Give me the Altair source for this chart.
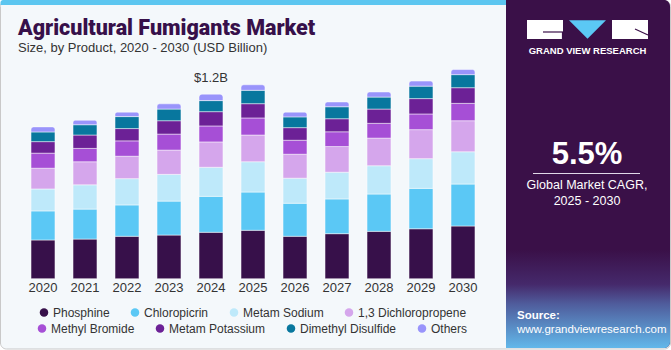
import altair as alt
import pandas as pd

years = [2020, 2021, 2022, 2023, 2024, 2025, 2026, 2027, 2028, 2029, 2030]
products = ["Phosphine", "Chloropicrin", "Metam Sodium", "1,3 Dichloropropene",
            "Methyl Bromide", "Metam Potassium", "Dimethyl Disulfide", "Others"]
colors = ["#37104A", "#5BC8F5", "#BEE9FA", "#D5A6EC",
          "#A64FD6", "#6C2196", "#08779E", "#9994FB"]

phosphine = [0.252, 0.258, 0.276, 0.284, 0.302, 0.315, 0.276, 0.293, 0.308, 0.325, 0.343]
chloropicrin = [0.189, 0.195, 0.204, 0.221, 0.234, 0.249, 0.215, 0.226, 0.243, 0.263, 0.273]
metam_sodium = [0.143, 0.158, 0.171, 0.174, 0.189, 0.197, 0.163, 0.174, 0.184, 0.193, 0.210]
dichloropropene = [0.135, 0.150, 0.146, 0.158, 0.165, 0.174, 0.156, 0.167, 0.180, 0.189, 0.202]
methyl_bromide = [0.098, 0.087, 0.100, 0.104, 0.104, 0.111, 0.091, 0.096, 0.096, 0.102, 0.113]
metam_potassium = [0.075, 0.087, 0.080, 0.087, 0.093, 0.093, 0.082, 0.085, 0.093, 0.100, 0.102]
dimethyl_disulfide = [0.063, 0.067, 0.078, 0.076, 0.072, 0.087, 0.070, 0.078, 0.078, 0.081, 0.085]
others = [0.033, 0.029, 0.029, 0.034, 0.042, 0.036, 0.031, 0.031, 0.033, 0.033, 0.033]

series = [phosphine, chloropicrin, metam_sodium, dichloropropene,
          methyl_bromide, metam_potassium, dimethyl_disulfide, others]

rows = []
for i, (name, vals) in enumerate(zip(products, series)):
    for y, v in zip(years, vals):
        rows.append({"year": y, "product": name, "value": v, "idx": i})
df = pd.DataFrame(rows)

title_text = "Agricultural Fumigants Market"
subtitle_text = "Size, by Product, 2020 - 2030 (USD Billion)"
annotation_text = "$1.2B"
cagr_text = "5.5%"
cagr_label1 = "Global Market CAGR,"
cagr_label2 = "2025 - 2030"
brand_text = "GRAND VIEW RESEARCH"
source_label = "Source:"
source_url = "www.grandviewresearch.com"

W, H = 671, 350
one = pd.DataFrame({"a": [0]})
FONT = "Liberation Sans"

xscale = alt.Scale(domain=years, range=[22, 484], paddingInner=0.43, paddingOuter=0.215)
yscale = alt.Scale(domain=[0, 1.2], range=[278.7, 94.3], nice=False, zero=True)

def deco():
    return alt.Chart(one)

# backgrounds
bg = deco().mark_rect(fill="#F4F8FB", stroke="#C9C9C9", strokeWidth=1, cornerRadius=6).encode(
    x=alt.value(0.5), x2=alt.value(670.5), y=alt.value(0.5), y2=alt.value(349))
top_strip = deco().mark_rect(fill="#5CC6F0", cornerRadiusTopLeft=5).encode(
    x=alt.value(0.5), x2=alt.value(506), y=alt.value(0), y2=alt.value(5))
panel = deco().mark_rect(fill="#3A1048", cornerRadiusTopRight=6, cornerRadiusBottomRight=6).encode(
    x=alt.value(506), x2=alt.value(670), y=alt.value(0), y2=alt.value(348))
grad = alt.LinearGradient(
    gradient="linear", x1=0, y1=0, x2=0, y2=1,
    stops=[alt.GradientStop(offset=0, color="#3A1048"),
           alt.GradientStop(offset=0.35, color="#45296B"),
           alt.GradientStop(offset=0.55, color="#4F5C9C"),
           alt.GradientStop(offset=1, color="#62B8EA")])
panel_bottom = deco().mark_rect(color=grad, cornerRadiusBottomRight=6).encode(
    x=alt.value(506), x2=alt.value(670), y=alt.value(250), y2=alt.value(348))

# logo
logo_box1 = deco().mark_rect(fill="white").encode(
    x=alt.value(527), x2=alt.value(563), y=alt.value(20), y2=alt.value(39))
logo_box2 = deco().mark_rect(fill="white").encode(
    x=alt.value(612), x2=alt.value(648), y=alt.value(20), y2=alt.value(39))
logo_tri = deco().mark_point(shape="M -1 -0.5 L 1 -0.5 L 0 0.5 Z", filled=True,
                             fill="#5BC8F5", opacity=1, size=1369, strokeWidth=0).encode(
    x=alt.value(587.5), y=alt.value(29.5))
g_h = deco().mark_rule(color="#3A1048", strokeWidth=1.2).encode(
    x=alt.value(543), x2=alt.value(563), y=alt.value(32), y2=alt.value(32))
g_v = deco().mark_rule(color="#3A1048", strokeWidth=1.2).encode(
    x=alt.value(562.5), x2=alt.value(562.5), y=alt.value(32), y2=alt.value(39))
r_d = deco().mark_rule(color="#3A1048", strokeWidth=1.2).encode(
    x=alt.value(635), x2=alt.value(648), y=alt.value(29), y2=alt.value(35))
brand = deco().mark_text(text=brand_text, font=FONT, fontSize=9.5, fontWeight="bold",
                         color="white", align="center", baseline="middle").encode(
    x=alt.value(587.5), y=alt.value(50.5))

# CAGR
cagr = deco().mark_text(text=cagr_text, font=FONT, fontSize=31, fontWeight="bold",
                        color="white", align="center", baseline="middle").encode(
    x=alt.value(587), y=alt.value(155))
cagr_rule = deco().mark_rule(color="#E0D8E8", strokeWidth=1).encode(
    x=alt.value(533), x2=alt.value(640), y=alt.value(173.5), y2=alt.value(173.5))
cagr_l1 = deco().mark_text(text=cagr_label1, font=FONT, fontSize=12.5,
                           color="white", align="center", baseline="middle").encode(
    x=alt.value(587), y=alt.value(185))
cagr_l2 = deco().mark_text(text=cagr_label2, font=FONT, fontSize=12.5,
                           color="white", align="center", baseline="middle").encode(
    x=alt.value(587), y=alt.value(201))
src1 = deco().mark_text(text=source_label, font=FONT, fontSize=11.5, fontWeight="bold",
                        color="white", align="left", baseline="middle").encode(
    x=alt.value(517), y=alt.value(316))
src2 = deco().mark_text(text=source_url, font=FONT, fontSize=11.5,
                        color="white", align="left", baseline="middle").encode(
    x=alt.value(517), y=alt.value(330))

# titles
title = deco().mark_text(text=title_text, font="Roboto", fontSize=21.5, fontWeight=900,
                         color="#37104A", align="left", baseline="alphabetic").encode(
    x=alt.value(18), y=alt.value(35))
subtitle = deco().mark_text(text=subtitle_text, font=FONT, fontSize=13,
                            color="#333333", align="left", baseline="alphabetic").encode(
    x=alt.value(18), y=alt.value(52))

# bars
base = alt.Chart(df)
stacked = base.transform_stack(
    stack="value", groupby=["year"], as_=["v0", "v1"],
    sort=[alt.SortField("idx", order="ascending")])

color_enc = alt.Color("product:N", scale=alt.Scale(domain=products, range=colors), legend=None)

bars = stacked.transform_filter("datum.product != 'Others'").mark_bar(
    stroke="white", strokeWidth=0.8, strokeOpacity=0.6).encode(
    x=alt.X("year:O", scale=xscale, axis=None),
    y=alt.Y("v0:Q", scale=yscale, axis=None),
    y2="v1:Q",
    color=color_enc,
)
bars_top = stacked.transform_filter("datum.product == 'Others'").mark_bar(
    stroke="white", strokeWidth=0.8, strokeOpacity=0.6,
    cornerRadiusTopLeft=3, cornerRadiusTopRight=3).encode(
    x=alt.X("year:O", scale=xscale, axis=None),
    y=alt.Y("v0:Q", scale=yscale, axis=None),
    y2="v1:Q",
    color=color_enc,
)

def legend_row(names, cols, lx, ly):
    return base.transform_filter("false").mark_point(filled=True).encode(
        color=alt.Color("product:N", scale=alt.Scale(domain=names, range=cols),
                        legend=alt.Legend(title=None, orient="none", legendX=lx, legendY=ly,
                                          direction="horizontal", columns=len(names),
                                          symbolType="circle", symbolSize=72,
                                          symbolStrokeWidth=0, symbolOpacity=1,
                                          labelFont=FONT, labelFontSize=12,
                                          labelColor="#333333", columnPadding=19,
                                          labelOffset=3, padding=0, labelLimit=300)))

legend1 = legend_row(products[:4], colors[:4], 38, 306.5)
legend2 = legend_row(products[4:], colors[4:], 36, 322.5)

year_labels = base.transform_filter("datum.idx == 0").mark_text(
    font=FONT, fontSize=13, color="#333333", baseline="middle").encode(
    x=alt.X("year:O", scale=xscale, axis=None),
    y=alt.value(288),
    text="year:O")

annot = base.transform_filter("datum.year == 2024").transform_aggregate(
    total="sum(value)", groupby=["year"]).mark_text(
    text=annotation_text, font=FONT, fontSize=13, color="#333333",
    baseline="middle", dy=-16).encode(
    x=alt.X("year:O", scale=xscale, axis=None),
    y=alt.Y("total:Q", scale=yscale, axis=None))

chart = alt.layer(
    bg, top_strip, panel, panel_bottom,
    logo_box1, logo_box2, logo_tri, g_h, g_v, r_d, brand,
    cagr, cagr_rule, cagr_l1, cagr_l2, src1, src2,
    title, subtitle,
    bars, bars_top, year_labels, annot, legend1, legend2,
).resolve_scale(color="independent").properties(
    width=W, height=H, autosize=alt.AutoSizeParams(type="none"), padding=0,
    background="white"
).configure_view(stroke=None)

chart.save("out.html", embed_options={"renderer": "svg", "actions": False})
